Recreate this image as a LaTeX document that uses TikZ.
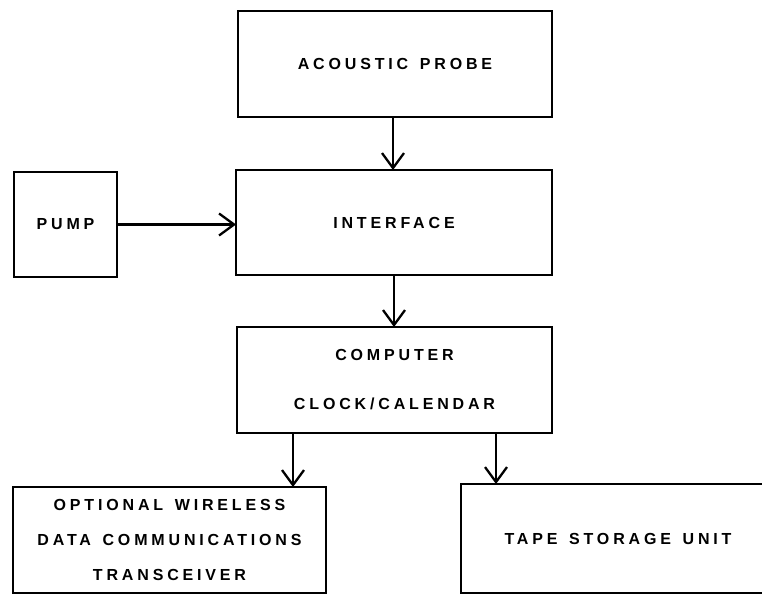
\documentclass[tikz,border=0pt]{standalone}
\usepackage{fontspec}
\usetikzlibrary{arrows.meta}
\newfontfamily\lblfont{Liberation Sans}[LetterSpace=24, WordSpace=1.4]
\begin{document}
\begin{tikzpicture}[x=1pt,y=-1pt,
  box/.style={draw=black, line width=2.5pt, outer sep=0pt, inner sep=0pt,
    align=center, font=\lblfont\bfseries\fontsize{16}{35}\selectfont},
  conn/.style={line width=2.3pt, -{Straight Barb[length=15pt,width=22pt]}}]
\useasboundingbox (0,0) rectangle (762,594);
\clip (0,0) rectangle (762,594);
\node[box, minimum width=314pt, minimum height=106pt] (ap) at (395,64) {ACOUSTIC PROBE};
\node[box, minimum width=103pt, minimum height=105pt] (pump) at (65.5,224.5) {PUMP};
\node[box, minimum width=316pt, minimum height=105pt] (intf) at (394,222.5) {INTERFACE};
\node[box, minimum width=315pt, minimum height=106pt] (comp) at (394.5,380) {COMPUTER\\[14pt]CLOCK/CALENDAR};
\node[box, minimum width=313pt, minimum height=106pt] (opt) at (169.5,540) {OPTIONAL WIRELESS\\DATA COMMUNICATIONS\\TRANSCEIVER};
\node[box, minimum width=314pt, minimum height=109pt] (tape) at (618,538.5) {TAPE STORAGE UNIT};
\coordinate (c0) at ([xshift=-2pt]ap.south);
\coordinate (c1) at ([xshift=-101.5pt]comp.south);
\coordinate (c2) at ([xshift=101.5pt]comp.south);
\draw[conn] (c0) -- (c0 |- intf.north);
\draw[conn] (pump.east) -- (pump.east -| intf.west);
\draw[conn] (intf.south) -- (intf.south |- comp.north);
\draw[conn] (c1) -- (c1 |- opt.north);
\draw[conn] (c2) -- (c2 |- tape.north);
\end{tikzpicture}
\end{document}
